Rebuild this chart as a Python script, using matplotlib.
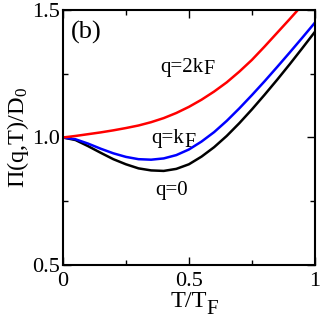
import matplotlib
matplotlib.use('Agg')
import matplotlib.pyplot as plt
from matplotlib.ticker import MultipleLocator

plt.rcParams['font.family'] = ['Liberation Serif', 'DejaVu Serif']
plt.rcParams['mathtext.fontset'] = 'custom'
plt.rcParams['mathtext.rm'] = 'Liberation Serif'
plt.rcParams['mathtext.it'] = 'Liberation Serif:italic'

# values
t = [0.0, 0.05, 0.1, 0.15, 0.2, 0.25, 0.3, 0.35, 0.4, 0.45, 0.5,
     0.55, 0.6, 0.65, 0.7, 0.75, 0.8, 0.85, 0.9, 0.95, 1.0]
q0 = [1.0, 0.99, 0.966, 0.94, 0.915, 0.895, 0.879, 0.871, 0.869, 0.877, 0.895,
      0.925, 0.962, 1.006, 1.056, 1.11, 1.167, 1.226, 1.287, 1.35, 1.414]
qkf = [1.0, 0.993, 0.976, 0.956, 0.938, 0.924, 0.915, 0.913, 0.918, 0.931, 0.953,
       0.984, 1.021, 1.065, 1.114, 1.166, 1.22, 1.276, 1.333, 1.391, 1.45]
t2 = [0.0, 0.05, 0.1, 0.15, 0.2, 0.25, 0.3, 0.35, 0.4, 0.45, 0.5,
      0.55, 0.6, 0.65, 0.7, 0.75, 0.8, 0.85, 0.9, 0.94]
q2kf = [1.0, 1.006, 1.013, 1.02, 1.028, 1.037, 1.047, 1.06, 1.076, 1.096, 1.12,
        1.148, 1.18, 1.216, 1.258, 1.304, 1.356, 1.41, 1.464, 1.508]

fig = plt.figure(figsize=(3.21, 3.19), dpi=100)
ax = fig.add_axes([0.196, 0.169, 0.785, 0.80])

ax.plot(t, q0, color='black', lw=1.8)
ax.plot(t, qkf, color='blue', lw=1.8)
ax.plot(t2, q2kf, color='red', lw=1.8)

ax.set_xlim(0, 1)
ax.set_ylim(0.5, 1.5)
ax.xaxis.set_minor_locator(MultipleLocator(0.25))
ax.yaxis.set_minor_locator(MultipleLocator(0.25))
ax.set_xticks([0, 0.5, 1])
ax.set_xticklabels(['0', '0.5', '1'])
ax.set_yticks([0.5, 1.0, 1.5])
ax.set_yticklabels(['0.5', '1.0', '1.5'])
ax.tick_params(which='both', direction='in', top=True, right=True,
               labelsize=16, width=1)
ax.tick_params(which='major', length=5.5)
ax.tick_params(axis='x', pad=5)
ax.tick_params(axis='y', pad=2)
ax.tick_params(which='minor', length=3.6)
for s in ax.spines.values():
    s.set_linewidth(1.5)

ax.set_ylabel(r'Π(q,T)/D$_\mathregular{0}$', fontsize=17.5, labelpad=1)
xl = ax.text(0.5, -0.165, 'T/T', transform=ax.transAxes, fontsize=17.5,
             ha='center', va='baseline')
ax.annotate('F', xy=(1, 0), xycoords=xl, xytext=(-0.5, -5),
            textcoords='offset points', fontsize=15, va='bottom')

ax.text(0.032, 0.955, '(b)', transform=ax.transAxes, fontsize=19, va='top')

l1 = ax.text(0.385, 0.755, 'q=2k', transform=ax.transAxes, fontsize=15,
             va='baseline')
ax.annotate('F', xy=(1, 0), xycoords=l1, xytext=(0.3, -1.5),
            textcoords='offset points', fontsize=14.5, va='bottom')
l2 = ax.text(0.349, 0.478, 'q=k', transform=ax.transAxes, fontsize=15,
             va='baseline')
ax.annotate('F', xy=(1, 0), xycoords=l2, xytext=(0.3, -3),
            textcoords='offset points', fontsize=14.5, va='bottom')
ax.text(0.365, 0.275, 'q=0', transform=ax.transAxes, fontsize=15,
        va='baseline')

fig.savefig('out.png', dpi=100)
